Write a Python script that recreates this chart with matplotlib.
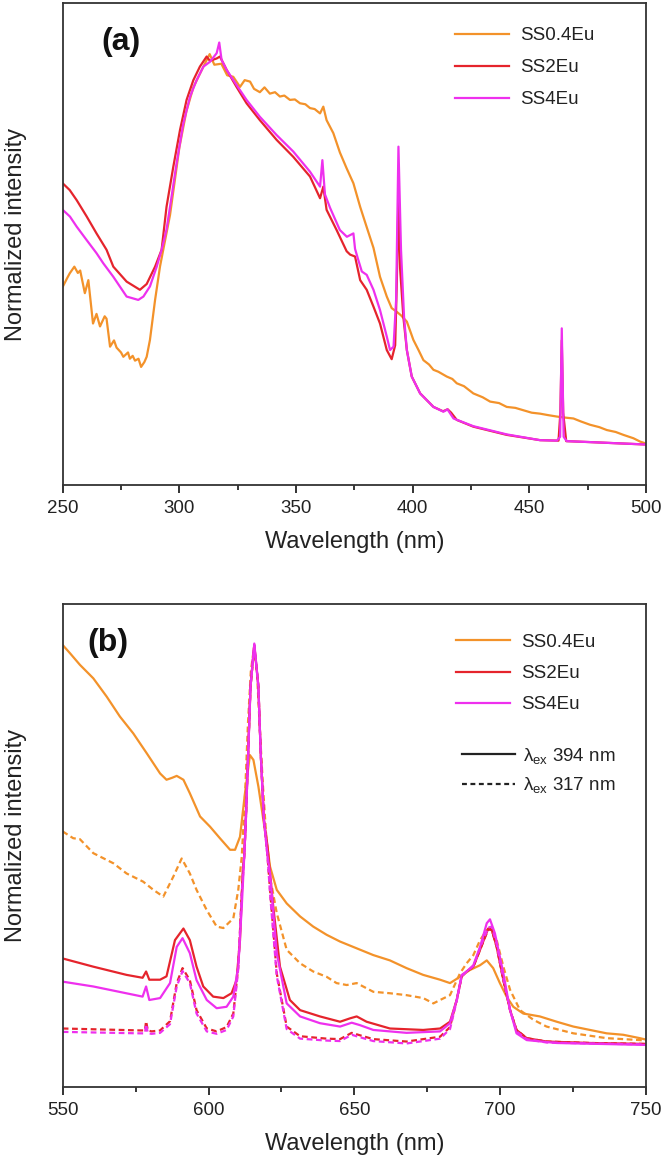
"""Excitation / emission spectra of SS:Eu phosphors"""

import matplotlib
matplotlib.use("Agg")
import matplotlib.pyplot as plt
from matplotlib.ticker import MultipleLocator

plt.rcParams['font.family'] = ['Liberation Sans', 'DejaVu Sans']
plt.rcParams['mathtext.fontset'] = 'custom'
plt.rcParams['mathtext.rm'] = 'Liberation Sans'
plt.rcParams['mathtext.it'] = 'Liberation Sans:italic'

orange = '#F3922A'
red = '#E5242C'
magenta = '#EE30EE'
txt = '#222222'

labels = ['SS0.4Eu', 'SS2Eu', 'SS4Eu']

# ---- (a) excitation spectra ----
wl_a_04 = [250, 252, 253, 255, 256.5, 257.5, 259.5, 261, 263, 264.5, 266, 268, 268.8, 270.3, 272,
           273.1, 275, 276, 278, 278.8, 280, 281, 282.5, 283.6, 285, 286, 287.4, 289.6, 291.7, 293.1,
           296, 298, 300, 303, 306, 310, 313, 315, 318, 320.5, 323.1, 326, 328, 330.3, 332, 334.5,
           336.5, 338.8, 341, 343.1, 345, 347.4, 349.5, 351.7, 354, 356, 358, 360.3, 361.7, 363.1,
           366, 368.8, 371.7, 374.6, 377.5, 380.3, 383.2, 386, 388.9, 391, 393, 395, 397.5, 400.3,
           402.5, 404.6, 407, 408.9, 411, 414.6, 417, 418.9, 422, 426, 430, 433.2, 437, 440.3, 444,
           447.5, 451, 454.6, 458, 461.8, 465, 468.9, 472, 476, 480, 483.2, 487, 490.3, 494.6,
           497.5, 500]
int_a_04 = [0.411, 0.430, 0.439, 0.453, 0.440, 0.445, 0.398, 0.425, 0.335, 0.355, 0.329, 0.350, 0.345,
            0.287, 0.300, 0.285, 0.275, 0.266, 0.275, 0.262, 0.268, 0.258, 0.262, 0.245, 0.255, 0.266,
            0.301, 0.384, 0.453, 0.488, 0.560, 0.630, 0.700, 0.775, 0.825, 0.865, 0.894, 0.872, 0.874,
            0.850, 0.847, 0.826, 0.840, 0.837, 0.822, 0.815, 0.825, 0.812, 0.815, 0.806, 0.808, 0.799,
            0.800, 0.792, 0.790, 0.782, 0.780, 0.771, 0.785, 0.757, 0.730, 0.690, 0.657, 0.626, 0.577,
            0.535, 0.492, 0.432, 0.391, 0.367, 0.360, 0.352, 0.339, 0.301, 0.280, 0.259, 0.250, 0.239,
            0.235, 0.225, 0.220, 0.211, 0.205, 0.190, 0.182, 0.173, 0.170, 0.162, 0.160, 0.155, 0.150,
            0.148, 0.145, 0.142, 0.140, 0.138, 0.132, 0.125, 0.120, 0.114, 0.110, 0.104, 0.097, 0.090,
            0.086]

wl_a_2 = [250, 253, 256, 260.3, 264.5, 268.8, 271.7, 277.4, 283.1, 286, 289.6, 292.4, 294.5, 297.4,
          300.3, 303.1, 306, 308.8, 311.7, 313.1, 316, 317.4, 320.3, 324.5, 328.8, 334.5, 341.7, 348.8,
          356, 360.3, 361.7, 363.1, 367.4, 371.7, 373.2, 375.3, 377.5, 380.3, 383.2, 386, 388.9, 391,
          392.5, 393.2, 393.9, 394.6, 396, 397.5, 399.6, 403.2, 408.9, 413, 415, 416.5, 418.9, 426,
          440.3, 454.6, 462.5, 463.3, 463.9, 464.5, 465.8, 476, 490.3, 500]
int_a_2 = [0.626, 0.612, 0.591, 0.557, 0.522, 0.488, 0.453, 0.422, 0.405, 0.417, 0.453, 0.488, 0.577,
           0.660, 0.737, 0.799, 0.840, 0.868, 0.889, 0.880, 0.885, 0.889, 0.861, 0.826, 0.792, 0.757,
           0.716, 0.681, 0.640, 0.595, 0.619, 0.571, 0.529, 0.485, 0.478, 0.474, 0.425, 0.405, 0.370,
           0.335, 0.280, 0.261, 0.290, 0.420, 0.600, 0.450, 0.349, 0.280, 0.225, 0.190, 0.162, 0.153,
           0.157, 0.150, 0.135, 0.121, 0.104, 0.093, 0.092, 0.150, 0.300, 0.150, 0.091, 0.089, 0.086,
           0.084]

wl_a_4 = [250, 253.1, 256, 260.3, 264.5, 267.4, 271.7, 277.4, 282.4, 284.6, 287.4, 290.3, 292.4, 294.5,
          296, 298.8, 301.7, 304.6, 307.4, 310.3, 313.1, 316, 317.1, 318.1, 320.3, 324.5, 328.8, 334.5,
          341.7, 348.8, 356, 360.3, 361.3, 362.4, 364.6, 368.8, 371.8, 374.6, 375.3, 376.5, 378.2,
          380.3, 383.2, 386, 388.9, 390.3, 391.8, 392.9, 393.9, 395.0, 396.3, 397.5, 399.6, 403.2,
          408.9, 413.2, 414.9, 417.5, 426, 440.3, 454.6, 461.8, 463.2, 463.9, 464.7, 466, 476, 490.3,
          500]
int_a_4 = [0.571, 0.557, 0.536, 0.508, 0.481, 0.460, 0.432, 0.391, 0.384, 0.391, 0.412, 0.453, 0.488,
           0.530, 0.577, 0.667, 0.750, 0.806, 0.840, 0.868, 0.878, 0.896, 0.918, 0.882, 0.861, 0.830,
           0.799, 0.764, 0.726, 0.692, 0.650, 0.619, 0.674, 0.603, 0.575, 0.529, 0.515, 0.522, 0.490,
           0.470, 0.443, 0.436, 0.405, 0.363, 0.308, 0.280, 0.287, 0.384, 0.702, 0.488, 0.349, 0.280,
           0.225, 0.190, 0.162, 0.152, 0.157, 0.138, 0.122, 0.105, 0.093, 0.092, 0.100, 0.325, 0.100,
           0.091, 0.089, 0.086, 0.084]

# ---- (b) emission spectra, solid = ex 394 nm, dashed = ex 317 nm ----
wl_b_04 = [550, 552.5, 555.9, 560.5, 565.1, 569.6, 574.2, 578.8, 583.4, 585.6, 587.5, 589.1, 591.4,
           593.6, 597.1, 600.5, 603.9, 607.4, 609.1, 610.8, 612.5, 614.2, 615.4, 617.1, 618.8, 620.5,
           621.1, 623.4, 626.8, 631.4, 635.9, 640.5, 645.1, 650.8, 656.5, 662.2, 667.9, 673.6, 679.4,
           682.8, 686.2, 689.6, 693.1, 695.4, 697.6, 699.9, 702.2, 704.5, 707.9, 713.6, 719.4, 725.1,
           730.8, 736.5, 742.2, 747.9, 750]
int_b_04 = [0.915, 0.898, 0.874, 0.846, 0.808, 0.767, 0.732, 0.691, 0.649, 0.636, 0.640, 0.644, 0.636,
            0.608, 0.560, 0.539, 0.515, 0.491, 0.491, 0.518, 0.608, 0.687, 0.677, 0.622, 0.553, 0.484,
            0.456, 0.408, 0.380, 0.353, 0.332, 0.315, 0.301, 0.287, 0.273, 0.262, 0.246, 0.232, 0.222,
            0.215, 0.228, 0.242, 0.252, 0.262, 0.246, 0.215, 0.187, 0.166, 0.152, 0.146, 0.135, 0.125,
            0.118, 0.111, 0.108, 0.101, 0.098]

wl_b_04d = [550, 553.6, 555.9, 560.5, 567.4, 571.9, 577.6, 581.1, 584.5, 587.9, 590.8, 593.6, 595.9,
            599.4, 602.8, 605.1, 608.5, 610.2, 611.4, 612.5, 613.5, 614.5, 615.6, 616.6, 617.6, 618.7,
            620, 621.1, 623.4, 626.8, 631.4, 635.9, 640.5, 643.9, 647.4, 650.8, 656.5, 662.2, 667.9,
            673.6, 677.1, 679.4, 682.8, 686.2, 688.5, 690.8, 693.1, 695.4, 696.5, 698.8, 701.1, 703.4,
            706.8, 711.4, 715.9, 725.1, 736.5, 747.9, 750]
int_b_04d = [0.529, 0.515, 0.513, 0.484, 0.463, 0.442, 0.425, 0.408, 0.394, 0.435, 0.473, 0.442, 0.408,
             0.366, 0.332, 0.329, 0.349, 0.408, 0.477, 0.600, 0.750, 0.860, 0.910, 0.860, 0.740, 0.620,
             0.500, 0.435, 0.360, 0.284, 0.256, 0.239, 0.228, 0.215, 0.211, 0.215, 0.197, 0.194, 0.190,
             0.184, 0.173, 0.180, 0.190, 0.235, 0.256, 0.273, 0.304, 0.325, 0.328, 0.304, 0.249, 0.201,
             0.159, 0.139, 0.125, 0.111, 0.101, 0.097, 0.096]

wl_b_2 = [550, 560.5, 571.9, 577.4, 578.6, 579.7, 583.4, 585.6, 588.5, 591.4, 593.6, 595.9, 598.2,
          601.6, 605.1, 607.9, 609.6, 610.8, 611.7, 612.3, 612.8, 613.6, 614.4, 615.7, 617.1, 617.9,
          619.0, 620.2, 621.1, 622.2, 624.5, 627.9, 631.4, 638.2, 645.1, 648.5, 650.8, 654.2, 662.2,
          673.6, 679.4, 682.8, 685.1, 686.8, 688.5, 690.8, 693.1, 695.9, 697.1, 698.8, 701.1, 703.4,
          705.6, 709.1, 715.9, 730.8, 750]
int_b_2 = [0.266, 0.249, 0.232, 0.226, 0.239, 0.222, 0.222, 0.229, 0.304, 0.328, 0.304, 0.249, 0.208,
           0.187, 0.184, 0.194, 0.221, 0.304, 0.442, 0.484, 0.553, 0.691, 0.829, 0.915, 0.829, 0.691,
           0.553, 0.500, 0.440, 0.373, 0.249, 0.180, 0.159, 0.146, 0.135, 0.142, 0.146, 0.135, 0.121,
           0.118, 0.121, 0.135, 0.180, 0.229, 0.239, 0.249, 0.284, 0.328, 0.326, 0.290, 0.221, 0.159,
           0.118, 0.101, 0.094, 0.091, 0.089]

wl_b_4 = [550, 560.5, 577.4, 578.6, 579.7, 583.4, 586.8, 589.1, 591.1, 593.6, 595.9, 599.4, 602.8,
          606.2, 608.5, 610.2, 611.4, 612.3, 612.8, 613.6, 614.4, 615.7, 617.1, 617.9, 619.0, 620.2,
          621.1, 623.4, 626.8, 631.4, 638.2, 645.1, 649.1, 651.9, 656.5, 667.9, 679.4, 682.8, 685.1,
          686.8, 688.5, 690.8, 693.1, 695.4, 696.5, 698.2, 701.1, 703.4, 705.6, 709.1, 719.4, 750]
int_b_4 = [0.218, 0.208, 0.187, 0.208, 0.180, 0.184, 0.215, 0.290, 0.308, 0.277, 0.221, 0.180, 0.163,
           0.166, 0.187, 0.249, 0.373, 0.484, 0.553, 0.691, 0.829, 0.918, 0.829, 0.691, 0.553, 0.480,
           0.442, 0.277, 0.173, 0.146, 0.132, 0.125, 0.133, 0.128, 0.118, 0.112, 0.115, 0.132, 0.180,
           0.232, 0.239, 0.252, 0.290, 0.339, 0.347, 0.318, 0.235, 0.159, 0.111, 0.097, 0.091, 0.087]

wl_b_d = [550, 576.5, 578.2, 578.6, 579.2, 580.5, 583.4, 586.8, 589.1, 591.1, 593.6, 595.9, 599.4,
          602.8, 606.2, 608.5, 610.2, 611.4, 612.3, 612.8, 613.6, 614.4, 615.7, 617.1, 617.9, 619.0,
          620.2, 621.1, 623.4, 626.8, 631.4, 640.5, 645.1, 649.1, 651.9, 656.5, 667.9, 679.4, 682.8,
          685.1, 686.8, 688.5, 690.8, 693.1, 695.9, 697.1, 698.8, 701.1, 703.4, 705.6, 709.1, 715.9,
          730.8, 750]
int_b_2d = [0.121, 0.117, 0.117, 0.136, 0.117, 0.115, 0.117, 0.136, 0.215, 0.246, 0.221, 0.159, 0.121,
            0.115, 0.124, 0.152, 0.249, 0.400, 0.484, 0.553, 0.691, 0.829, 0.915, 0.829, 0.691, 0.553,
            0.480, 0.408, 0.235, 0.125, 0.105, 0.100, 0.099, 0.112, 0.107, 0.099, 0.094, 0.104, 0.124,
            0.180, 0.229, 0.239, 0.249, 0.284, 0.326, 0.325, 0.290, 0.221, 0.159, 0.118, 0.101, 0.094,
            0.091, 0.089]
int_b_4d = [0.114, 0.111, 0.111, 0.130, 0.111, 0.110, 0.112, 0.130, 0.208, 0.240, 0.215, 0.152, 0.115,
            0.110, 0.118, 0.146, 0.245, 0.400, 0.484, 0.553, 0.691, 0.829, 0.915, 0.829, 0.691, 0.553,
            0.480, 0.400, 0.230, 0.120, 0.100, 0.096, 0.095, 0.108, 0.103, 0.095, 0.090, 0.100, 0.120,
            0.178, 0.229, 0.239, 0.250, 0.288, 0.330, 0.332, 0.295, 0.224, 0.159, 0.115, 0.099, 0.092,
            0.090, 0.088]

lw = 1.6
dash = (0, (2.6, 1.6))


def style(ax, xmin, xmax, tag, tag_x):
    ax.set_xlim(xmin, xmax)
    ax.set_ylim(0, 1)
    ax.xaxis.set_major_locator(MultipleLocator(50))
    ax.xaxis.set_minor_locator(MultipleLocator(25))
    ax.set_yticks([])
    ax.tick_params(axis='x', which='major', length=6, width=1.3, pad=5,
                   labelsize=13.5, colors=txt, direction='out')
    ax.tick_params(axis='x', which='minor', length=3.5, width=1.1, direction='out')
    for sp in ax.spines.values():
        sp.set_linewidth(1.3)
        sp.set_color('#333333')
    ax.set_xlabel('Wavelength (nm)', fontsize=17, color=txt, labelpad=10)
    ax.set_ylabel('Normalized intensity', fontsize=17, color=txt)
    ax.yaxis.set_label_coords(-0.062, 0.52)
    ax.text(tag_x, 0.92, tag, transform=ax.transAxes, fontsize=23, fontweight='bold',
            color='#111111', ha='center', va='center')


fig = plt.figure(figsize=(6.64, 11.65), dpi=100)
ax1 = fig.add_axes([0.0944, 0.5837, 0.8785, 0.4137])
ax2 = fig.add_axes([0.0944, 0.0670, 0.8785, 0.4146])

# panel (a)
ax1.plot(wl_a_04, int_a_04, color=orange, lw=lw, label=labels[0])
ax1.plot(wl_a_2, int_a_2, color=red, lw=lw, label=labels[1])
ax1.plot(wl_a_4, int_a_4, color=magenta, lw=lw, label=labels[2])
style(ax1, 250, 500, '(a)', 0.10)
ax1.legend(loc='upper left', bbox_to_anchor=(0.672, 0.950), frameon=False, fontsize=13.5,
           handlelength=2.9, handletextpad=0.6, labelspacing=0.79, borderpad=0, borderaxespad=0,
           labelcolor=txt)

# panel (b)
l1, = ax2.plot(wl_b_04, int_b_04, color=orange, lw=lw, label=labels[0])
ax2.plot(wl_b_04d, int_b_04d, color=orange, lw=lw, ls=dash)
l2, = ax2.plot(wl_b_2, int_b_2, color=red, lw=lw, label=labels[1])
ax2.plot(wl_b_d, int_b_2d, color=red, lw=lw, ls=dash)
l3, = ax2.plot(wl_b_4, int_b_4, color=magenta, lw=lw, label=labels[2])
ax2.plot(wl_b_d, int_b_4d, color=magenta, lw=lw, ls=dash)
style(ax2, 550, 750, '(b)', 0.078)

leg1 = ax2.legend(handles=[l1, l2, l3], loc='upper left', bbox_to_anchor=(0.674, 0.938),
                  frameon=False, fontsize=13.5, handlelength=2.9, handletextpad=0.6,
                  labelspacing=0.75, borderpad=0, borderaxespad=0, labelcolor=txt)
ax2.add_artist(leg1)
s1, = ax2.plot([], [], color='#222222', lw=lw)
s2, = ax2.plot([], [], color='#222222', lw=lw, ls=(0, (2.2, 1.6)))
ax2.legend([s1, s2], [r'λ$_{\mathrm{ex}}$ 394 nm', r'λ$_{\mathrm{ex}}$ 317 nm'],
           loc='upper left', bbox_to_anchor=(0.685, 0.706), frameon=False, fontsize=13.5,
           handlelength=2.8, handletextpad=0.45, labelspacing=0.5, borderpad=0,
           borderaxespad=0, labelcolor=txt)

fig.savefig('out.png', dpi=100)
